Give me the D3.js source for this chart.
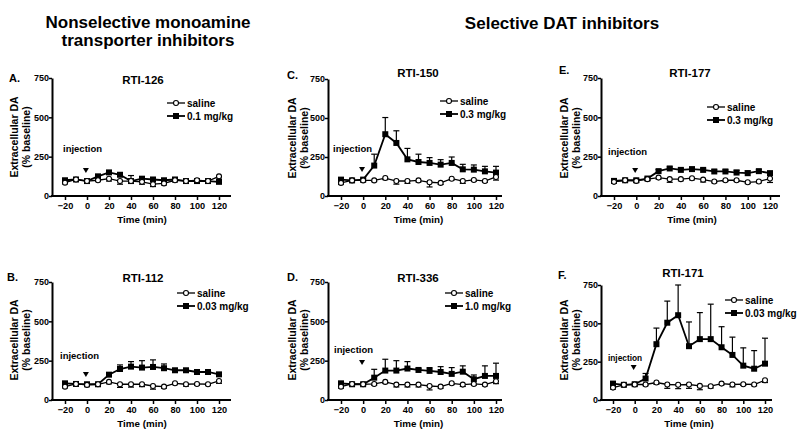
<!DOCTYPE html>
<html><head><meta charset="utf-8">
<script src="https://cdn.jsdelivr.net/npm/d3@7"></script>
<style>
body{margin:0;background:#fff;}
svg{display:block;}
text{font-family:Arial,"Liberation Sans",sans-serif;font-weight:bold;fill:#000;}
.hdr{font-family:"Liberation Sans Narrow","Arial Narrow",Arial,sans-serif;font-size:17px;}
</style></head><body>
<svg id="c" width="800" height="434"></svg>
<script>
// ---------- data ----------
const times = [-20,-10,0,10,20,30,40,50,60,70,80,90,100,110,120];
const xTicks = [-20,0,20,40,60,80,100,120];
const yTicks = [0,250,500,750];
const panelLetters = ["A.","B.","C.","D.","E.","F."];
const panelNames = ["RTI-126","RTI-112","RTI-150","RTI-336","RTI-177","RTI-171"];
const doseLabels = ["0.1 mg/kg","0.03 mg/kg","0.3 mg/kg","1.0 mg/kg","0.3 mg/kg","0.03 mg/kg"];
const headers = ["Nonselective monoamine","transporter inhibitors","Selective DAT inhibitors"];

const salineA = [85,105,95,100,110,95,95,90,75,80,100,95,100,95,125];
const salineAErr = [8,5,8,8,15,20,10,15,15,10,8,8,8,8,10];
const drugA = [100,105,95,125,150,135,95,110,105,100,105,95,95,95,90];
const drugAErr = [8,5,8,10,10,10,35,10,10,8,8,8,8,8,8];

const salineB = [85,102,96,100,115,100,100,100,89,85,106,100,102,100,121];
const salineBErr = [8,6,8,8,12,20,18,15,20,10,8,12,8,8,15];
const drugB = [106,102,100,100,161,197,212,206,210,202,189,189,178,178,163];
const drugBErr = [8,6,8,8,10,26,32,44,45,27,10,10,8,8,10];

const salineC = [84,100,100,100,115,96,96,100,88,84,111,96,103,96,122];
const salineCErr = [10,8,8,8,10,20,15,10,30,10,8,15,8,8,20];
const drugC = [105,100,105,195,396,340,235,218,212,201,212,171,169,158,150];
const drugCErr = [8,8,8,73,107,78,70,50,34,32,38,32,30,32,40];

const salineD = [85,102,100,102,115,98,98,98,89,85,106,98,102,98,119];
const salineDErr = [10,8,8,8,10,15,15,15,25,10,8,12,8,8,15];
const drugD = [106,100,100,142,187,187,200,191,185,178,166,180,132,153,153];
const drugDErr = [8,8,8,53,72,63,44,10,21,34,40,37,27,64,81];

const salineE = [90,100,96,107,117,107,107,113,104,92,100,100,87,92,111];
const salineEErr = [8,6,8,8,10,20,10,10,15,8,8,8,8,8,25];
const drugE = [96,100,100,111,158,175,166,171,166,156,156,149,145,158,145];
const drugEErr = [8,6,8,8,10,10,10,10,10,10,10,15,15,10,12];

const salineF = [81,99,101,101,114,101,99,101,92,90,107,101,103,101,129];
const salineFErr = [10,8,8,8,12,25,25,25,25,12,8,15,8,8,15];
const drugF = [107,99,103,140,364,504,553,351,397,397,344,294,224,204,237];
const drugFErr = [8,8,8,33,105,141,197,158,173,228,134,116,116,118,166];

const salineSeries = [salineA,salineB,salineC,salineD,salineE,salineF];
const salineErrs = [salineAErr,salineBErr,salineCErr,salineDErr,salineEErr,salineFErr];
const drugSeries = [drugA,drugB,drugC,drugD,drugE,drugF];
const drugErrs = [drugAErr,drugBErr,drugCErr,drugDErr,drugEErr,drugFErr];

// ---------- layout ----------
const layout = [
 {yx:52, ex:231, a:65,  b:219, top:78,  bot:196, letX:9,   letY:82,  titX:143, titY:84,  ylx:14,  ylc:137, legL:167, legY:103, injX:63,  injY:152, arY:171, injFs:9.5},
 {yx:52, ex:231, a:65,  b:219, top:282, bot:400, letX:7,   letY:281, titX:143, titY:282, ylx:14,  ylc:340, legL:177, legY:293, injX:60,  injY:359, arY:375, injFs:9.5},
 {yx:328,ex:502, a:341, b:496, top:79,  bot:196, letX:287, letY:79,  titX:418, titY:77,  ylx:292, ylc:138, legL:440, legY:101, injX:333, injY:152, arY:170, injFs:9.5},
 {yx:328,ex:502, a:341, b:496, top:282, bot:400, letX:287, letY:281, titX:418, titY:282, ylx:292, ylc:340, legL:445, legY:293, injX:334, injY:353, arY:363, injFs:9.5},
 {yx:601,ex:780, a:614, b:770, top:78,  bot:196, letX:559, letY:74,  titX:690, titY:77,  ylx:564, ylc:138, legL:707, legY:107, injX:608, injY:155, arY:171, injFs:9.5},
 {yx:601,ex:772, a:613, b:765, top:285, bot:400, letX:558, letY:279, titX:683, titY:277, ylx:564, ylc:340, legL:725, legY:300, injX:608, injY:361, arY:368, injFs:8.3}
];

const svg = d3.select("#c");

// headers
svg.append("text").attr("class","hdr").attr("x",148).attr("y",28).attr("text-anchor","middle").text(headers[0]);
svg.append("text").attr("class","hdr").attr("x",148).attr("y",46).attr("text-anchor","middle").text(headers[1]);
svg.append("text").attr("class","hdr").attr("x",562).attr("y",29).attr("text-anchor","middle").text(headers[2]);

layout.forEach((L,i)=>{
  const g = svg.append("g");
  const x = d3.scaleLinear().domain([-20,120]).range([L.a,L.b]);
  const y = d3.scaleLinear().domain([0,750]).range([L.bot,L.top]);

  // axes
  const ya = g.append("g").attr("transform",`translate(${L.yx},0)`)
    .call(d3.axisLeft(y).tickValues(yTicks).tickSize(3).tickSizeOuter(0));
  ya.select(".domain").attr("stroke-width",2);
  ya.selectAll(".tick line").attr("stroke-width",1.5);
  ya.selectAll(".tick text").attr("font-size",9).attr("font-weight","bold").attr("font-family","Arial,'Liberation Sans',sans-serif").attr("x",-3);
  const xa = g.append("g").attr("transform",`translate(0,${L.bot})`)
    .call(d3.axisBottom(x).tickValues(xTicks).tickSize(4).tickSizeOuter(0));
  xa.select(".domain").remove();
  xa.selectAll(".tick line").attr("stroke-width",1.5);
  xa.selectAll(".tick text").attr("font-size",9.2).attr("font-weight","bold").attr("font-family","Arial,'Liberation Sans',sans-serif").attr("y",6);
  g.append("line").attr("x1",L.yx-1).attr("x2",L.ex).attr("y1",L.bot).attr("y2",L.bot).attr("stroke","#000").attr("stroke-width",2);

  // labels
  g.append("text").attr("x",(L.a+L.b)/2).attr("y",L.bot+27).attr("text-anchor","middle").attr("font-size",9.8).text("Time (min)");
  g.append("text").attr("transform",`translate(${L.ylx+4},${L.ylc}) rotate(-90)`).attr("text-anchor","middle").attr("font-size",10.5).text("Extracellular DA");
  g.append("text").attr("transform",`translate(${L.ylx+16},${L.ylc}) rotate(-90)`).attr("text-anchor","middle").attr("font-size",10.5).text("(% baseline)");
  g.append("text").attr("x",L.letX).attr("y",L.letY).attr("font-size",11).text(panelLetters[i]);
  g.append("text").attr("x",L.titX).attr("y",L.titY).attr("text-anchor","middle").attr("font-size",11.5).text(panelNames[i]);
  g.append("text").attr("x",L.injX).attr("y",L.injY).attr("text-anchor","start").attr("font-size",L.injFs).text("injection");
  const ax = x(-1);
  g.append("path").attr("d",`M${ax-3},${L.arY-3}L${ax+3},${L.arY-3}L${ax},${L.arY+2}Z`).attr("fill","#000");

  const sal = salineSeries[i], salE = salineErrs[i], drg = drugSeries[i], drgE = drugErrs[i];
  const line = d3.line().x((d,k)=>x(times[k])).y(d=>y(d));

  // error bars
  const eb = (vals, errs, dir) => {
    vals.forEach((v,k)=>{
      const x0 = x(times[k]), y0 = y(v), y1 = y(v + dir*errs[k]);
      g.append("line").attr("x1",x0).attr("x2",x0).attr("y1",y0).attr("y2",y1).attr("stroke","#000").attr("stroke-width",1.2);
      g.append("line").attr("x1",x0-3).attr("x2",x0+3).attr("y1",y1).attr("y2",y1).attr("stroke","#000").attr("stroke-width",1.2);
    });
  };
  eb(sal, salE, -1);
  eb(drg, drgE, 1);

  g.append("path").datum(sal).attr("d",line).attr("fill","none").attr("stroke","#000").attr("stroke-width",1.3);
  g.append("path").datum(drg).attr("d",line).attr("fill","none").attr("stroke","#000").attr("stroke-width",1.8);

  g.selectAll(".sq").data(drg).enter().append("rect")
    .attr("x",(d,k)=>x(times[k])-3).attr("y",d=>y(d)-3).attr("width",6).attr("height",6).attr("fill","#000");
  g.selectAll(".ci").data(sal).enter().append("circle")
    .attr("cx",(d,k)=>x(times[k])).attr("cy",d=>y(d)).attr("r",2.5).attr("fill","#fff").attr("stroke","#000").attr("stroke-width",1.1);

  // legend
  const ly1 = L.legY, ly2 = L.legY+13;
  g.append("line").attr("x1",L.legL).attr("x2",L.legL+18).attr("y1",ly1).attr("y2",ly1).attr("stroke","#000").attr("stroke-width",1.3);
  g.append("circle").attr("cx",L.legL+9).attr("cy",ly1).attr("r",2.5).attr("fill","#fff").attr("stroke","#000").attr("stroke-width",1.1);
  g.append("line").attr("x1",L.legL).attr("x2",L.legL+18).attr("y1",ly2).attr("y2",ly2).attr("stroke","#000").attr("stroke-width",1.8);
  g.append("rect").attr("x",L.legL+6).attr("y",ly2-3).attr("width",6).attr("height",6).attr("fill","#000");
  g.append("text").attr("x",L.legL+20).attr("y",ly1+4).attr("font-size",10).text("saline");
  g.append("text").attr("x",L.legL+20).attr("y",ly2+4).attr("font-size",10).text(doseLabels[i]);
});
</script>
</body></html>
